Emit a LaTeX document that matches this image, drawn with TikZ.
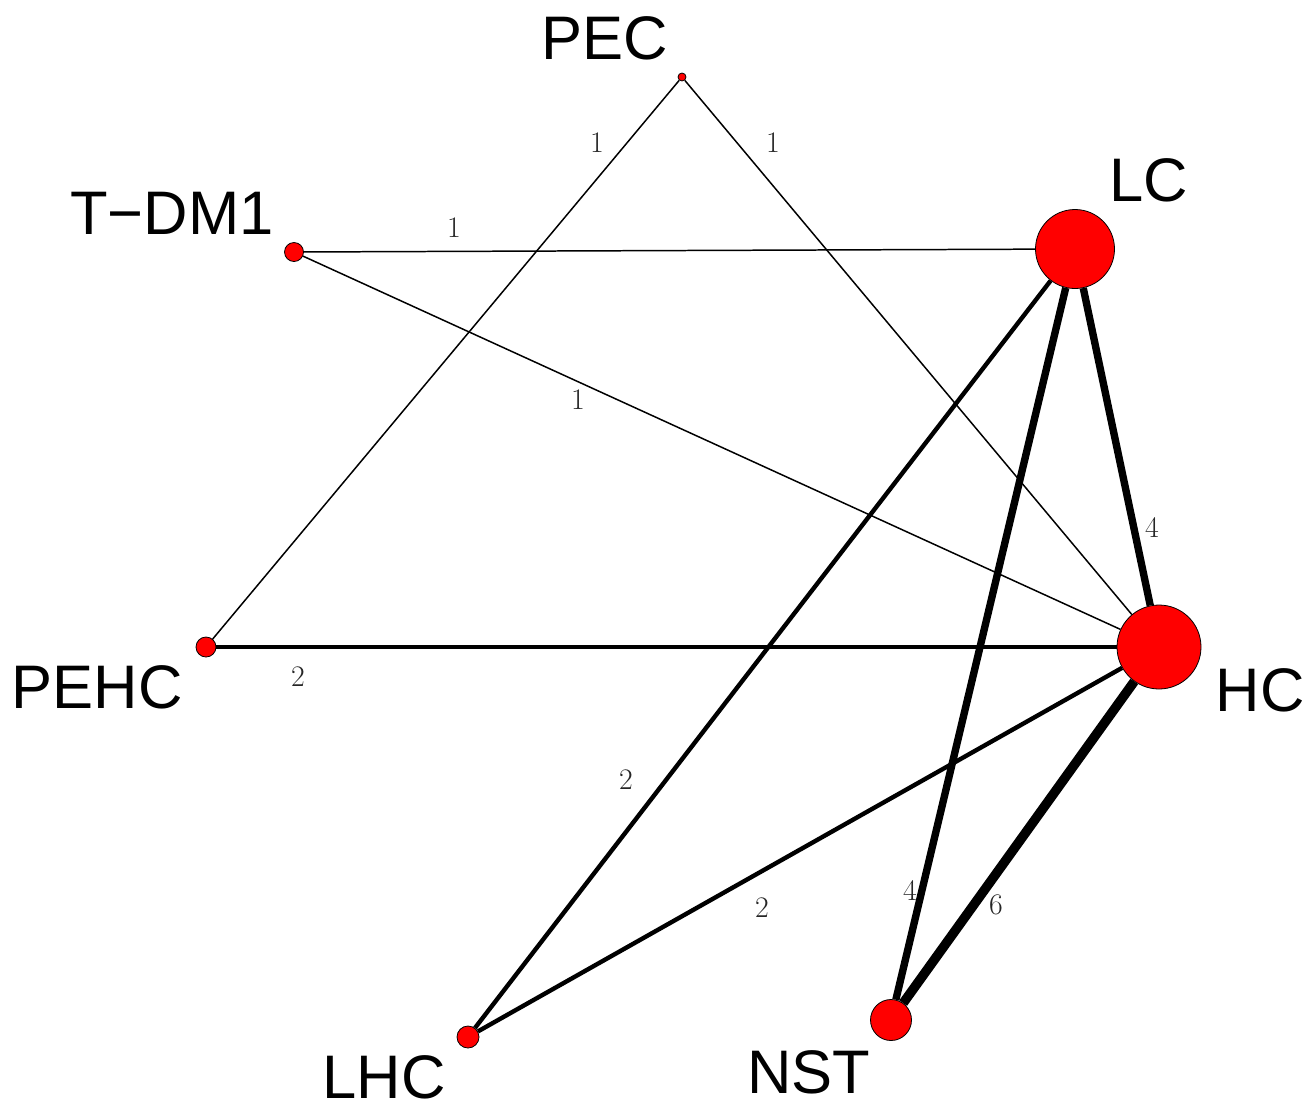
\documentclass[tikz,border=0pt]{standalone}
\usepackage{fontspec}
\newfontfamily\arialfont{Liberation Sans}
\usetikzlibrary{positioning}

\begin{document}
\begin{tikzpicture}[x=0.02cm, y=-0.02cm,
  trt/.style={circle, draw=black, line width=0.45pt, fill=red, inner sep=0pt},
  trtname/.style={font=\arialfont\fontsize{35}{40}\selectfont, inner sep=0pt},
  nlab/.style={font=\fontsize{17}{20}\selectfont, text=black!85, inner sep=0pt}]
  \useasboundingbox (0,0) rectangle (1308,1103);
  % treatments, size ~ number of trials
  \foreach \x/\y/\d/\name in {682/77/8/pec, 294/252/19/tdm, 1075/249/79/lc, 1159/647/84/hc,
      206/647/20/pehc, 468/1037/22/lhc, 891/1020/41/nst}
    \node[trt, minimum size=\d*0.02cm] (\name) at (\x,\y) {};
  \node[trtname] (pecl) at (605,38) {PEC};
  \node[trtname] (tdml) at (172,213) {T−DM1};
  \node[trtname] (lcl) at (1149,180) {LC};
  \node[trtname] (hcl) at (1260,690) {HC};
  \node[trtname] (pehcl) at (97,687) {PEHC};
  \node[trtname] (lhcl) at (384,1077) {LHC};
  \node[trtname] (nstl) at (809,1072) {NST};
  % comparisons, width ~ number of studies
  \foreach \a/\b/\w in {pec/pehc/0.85, pec/hc/0.85, tdm/lc/0.85, tdm/hc/0.85,
      pehc/hc/2.3, lhc/lc/2.5, lhc/hc/2.5, lc/hc/4.2, nst/lc/4.2, nst/hc/5.4}
    \draw[line width=\w pt] (\a) -- (\b);
  \node[nlab] (n1) at (597,143) {1};
  \node[nlab] (n2) at (773,143) {1};
  \node[nlab] (n3) at (454,228) {1};
  \node[nlab] (n4) at (578,400) {1};
  \node[nlab] (n5) at (298,677) {2};
  \node[nlab] (n6) at (626,780) {2};
  \node[nlab] (n7) at (762,908) {2};
  \node[nlab] (n8) at (1152,527) {4};
  \node[nlab] (n9) at (910,890) {4};
  \node[nlab] (n10) at (996,905) {6};
\end{tikzpicture}
\end{document}
